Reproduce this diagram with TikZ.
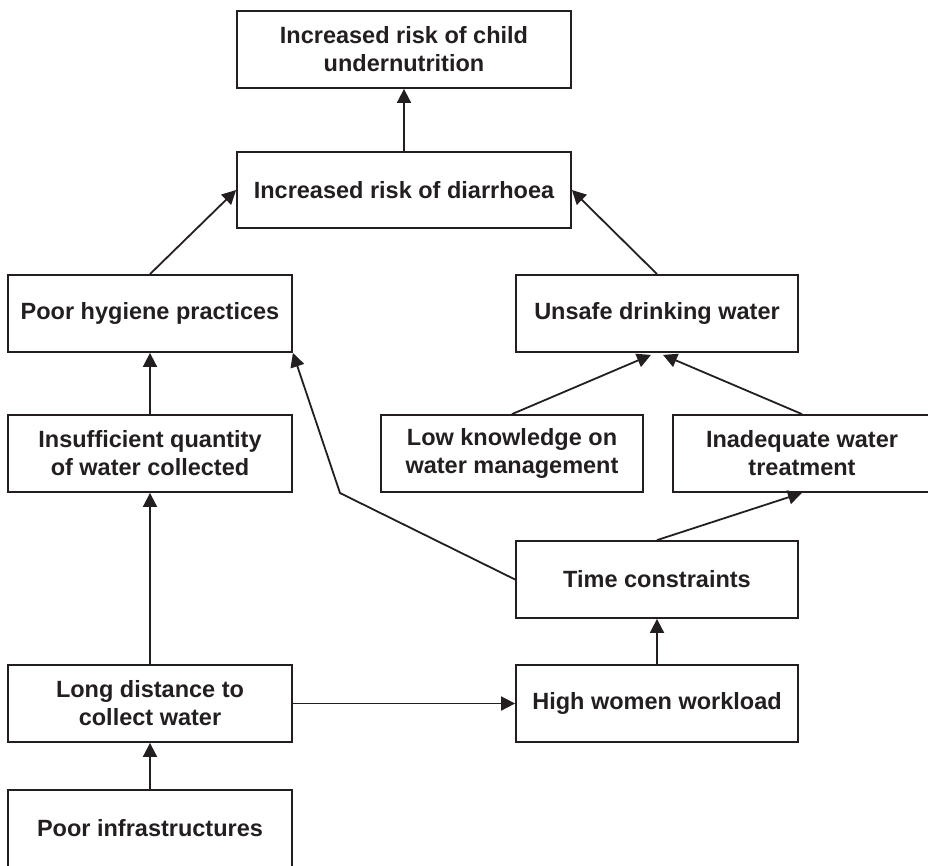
\documentclass[tikz,border=0pt]{standalone}
\usepackage{fontspec}
\setmainfont{Liberation Sans}
\usetikzlibrary{arrows.meta}
\definecolor{ink}{HTML}{231F20}
\begin{document}
\begin{tikzpicture}[x=1pt,y=-1pt,
  box/.style={draw=ink, line width=1.8pt, rectangle, align=center, text=ink,
    font=\bfseries\fontsize{23.5}{28}\selectfont, inner sep=0pt, anchor=center},
  arr/.style={draw=ink, line width=1.8pt, -{Triangle[length=14pt,width=14pt]}}]
\useasboundingbox (0,0) rectangle (928,865);
\node[box, minimum width=334pt, minimum height=77pt] (top) at (404,49.5) {Increased risk of child\\undernutrition};
\node[box, minimum width=334pt, minimum height=76pt] (diar) at (404,190) {Increased risk of diarrhoea};
\node[box, minimum width=284pt, minimum height=77pt] (hyg) at (150,313.5) {Poor hygiene practices};
\node[box, minimum width=282pt, minimum height=77pt] (unsafe) at (657,313.5) {Unsafe drinking water};
\node[box, minimum width=284pt, minimum height=77pt] (insuff) at (150,453.5) {Insufficient quantity\\of water collected};
\node[box, minimum width=262pt, minimum height=77pt] (lowk) at (512,453.5) {Low knowledge on\\water management};
\node[box, minimum width=258pt, minimum height=77pt] (inadeq) at (802,453.5) {Inadequate water\\treatment};
\node[box, minimum width=282pt, minimum height=77pt] (time) at (657,579.5) {Time constraints};
\node[box, minimum width=284pt, minimum height=77pt] (longd) at (150,703.5) {Long distance to\\collect water};
\node[box, minimum width=282pt, minimum height=77pt] (high) at (657,703.5) {High women workload};
\node[box, minimum width=284pt, minimum height=77pt] (infra) at (150,828.5) {Poor infrastructures};
\coordinate (bend) at (340,493);
\draw[arr] (diar.north) -- (top.south);
\draw[arr] (hyg.north) -- (diar.west);
\draw[arr] (unsafe.north) -- (diar.east);
\draw[arr] (lowk.north) -- ([xshift=-6pt,yshift=-2pt]unsafe.south);
\draw[arr] (inadeq.north) -- ([xshift=6pt,yshift=-2pt]unsafe.south);
\draw[arr] (insuff.north) -- (hyg.south);
\draw[arr] (time.west) -- (bend) -- (hyg.south east);
\draw[arr] (time.north) -- (inadeq.south);
\draw[arr] (high.north) -- (time.south);
\draw[arr] (longd.east) -- (high.west);
\draw[arr] (longd.north) -- (insuff.south);
\draw[arr] (infra.north) -- (longd.south);
\end{tikzpicture}
\end{document}
